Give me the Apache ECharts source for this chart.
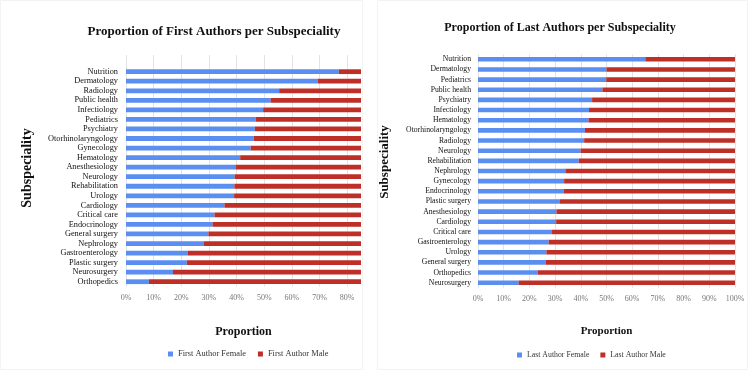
<!DOCTYPE html>
<html>
<head>
<meta charset="utf-8">
<script src="https://cdn.jsdelivr.net/npm/echarts@6/dist/echarts.min.js"></script>
<style>html,body{margin:0;padding:0;background:#fff;}#c{width:749px;height:371px;}</style>
</head>
<body>
<div id="c"></div>
<script>
// ---- Data ----
const firstCategories = ["Nutrition","Dermatology","Radiology","Public health","Infectiology","Pediatrics","Psychiatry","Otorhinolaryngology","Gynecology","Hematology","Anesthesiology","Neurology","Rehabilitation","Urology","Cardiology","Critical care","Endocrinology","General surgery","Nephrology","Gastroenterology","Plastic surgery","Neurosurgery","Orthopedics"];
const firstFemale = [77.0,69.3,55.4,52.3,49.6,46.9,46.6,46.2,45.1,41.3,39.8,39.3,39.2,39.1,35.6,32.0,31.3,29.8,28.2,22.4,22.0,17.0,8.3];
const firstMale = firstFemale.map(v => +(100 - v).toFixed(1));

const lastCategories = ["Nutrition","Dermatology","Pediatrics","Public health","Psychiatry","Infectiology","Hematology","Otorhinolaryngology","Radiology","Neurology","Rehabilitation","Nephrology","Gynecology","Endocrinology","Plastic surgery","Anesthesiology","Cardiology","Critical care","Gastroenterology","Urology","General surgery","Orthopedics","Neurosurgery"];
const lastFemale = [65.1,50.0,49.9,48.4,44.4,43.2,43.0,41.6,41.3,39.9,39.2,34.0,33.5,33.4,31.7,30.5,30.4,28.8,27.5,26.6,26.4,23.2,15.8];
const lastMale = lastFemale.map(v => +(100 - v).toFixed(1));

const firstTicks = [0,10,20,30,40,50,60,70,80];
const lastTicks = [0,10,20,30,40,50,60,70,80,90,100];

// ---- Styles ----
const BLUE = '#5a8ef0', RED = '#bd2f27';
const SERIF = 'Liberation Serif';
const fmt = ticks => v => ticks.indexOf(v) >= 0 ? v + '%' : '';

const chart = echarts.init(document.getElementById('c'));
chart.setOption({
  animation: false,
  backgroundColor: '#fff',
  title: [
    {text: 'Proportion of First Authors per Subspeciality', left: 209, top: 20, textAlign: 'center',
     textStyle: {fontFamily: SERIF, fontWeight: 'bold', fontSize: 13, color: '#111'}},
    {text: 'Proportion of Last Authors per Subspeciality', left: 555, top: 17, textAlign: 'center',
     textStyle: {fontFamily: SERIF, fontWeight: 'bold', fontSize: 12, color: '#111'}}
  ],
  legend: [
    {data: ['First Author Female','First Author Male'], left: 163, top: 345, icon: 'rect',
     itemWidth: 5, itemHeight: 5, itemGap: 12,
     textStyle: {fontFamily: SERIF, fontSize: 8.4, color: '#333'}},
    {data: ['Last Author Female','Last Author Male'], left: 512, top: 346, icon: 'rect',
     itemWidth: 5, itemHeight: 5, itemGap: 11,
     textStyle: {fontFamily: SERIF, fontSize: 7.8, color: '#333'}}
  ],
  grid: [
    {left: 126, top: 66.9, width: 235, height: 219.6},
    {left: 478, top: 54.2, width: 257, height: 233.6},
    {left: 126, top: 55, width: 235, height: 231.5},
    {left: 478, top: 54.2, width: 257, height: 233.6}
  ],
  xAxis: [
    {type: 'value', gridIndex: 0, min: 0, max: 85, interval: 10,
     axisLine: {show: false}, axisTick: {show: false}, splitLine: {show: false},
     axisLabel: {formatter: fmt(firstTicks), fontFamily: SERIF, fontSize: 8, color: '#777', margin: 7},
     name: 'Proportion', nameLocation: 'middle', nameGap: 39,
     nameTextStyle: {fontFamily: SERIF, fontWeight: 'bold', fontSize: 12, color: '#111'}},
    {type: 'value', gridIndex: 1, min: 0, max: 100, interval: 10,
     axisLine: {show: false}, axisTick: {show: false}, splitLine: {show: false},
     axisLabel: {formatter: fmt(lastTicks), fontFamily: SERIF, fontSize: 8, color: '#777', margin: 7},
     name: 'Proportion', nameLocation: 'middle', nameGap: 38,
     nameTextStyle: {fontFamily: SERIF, fontWeight: 'bold', fontSize: 11, color: '#111'}},
    {type: 'value', gridIndex: 2, min: 0, max: 85, interval: 10,
     axisLine: {show: false}, axisTick: {show: false}, axisLabel: {show: false},
     splitLine: {show: true, showMaxLine: false, lineStyle: {color: '#e3e3e3', width: 1}}},
    {type: 'value', gridIndex: 3, min: 0, max: 100, interval: 10,
     axisLine: {show: false}, axisTick: {show: false}, axisLabel: {show: false},
     splitLine: {show: true, lineStyle: {color: '#e3e3e3', width: 1}}}
  ],
  yAxis: [
    {type: 'category', gridIndex: 0, data: firstCategories, inverse: true,
     axisLine: {show: false}, axisTick: {show: false},
     axisLabel: {interval: 0, fontFamily: SERIF, fontSize: 8.3, color: '#111', margin: 8}},
    {type: 'category', gridIndex: 1, data: lastCategories, inverse: true,
     axisLine: {show: false}, axisTick: {show: false},
     axisLabel: {interval: 0, fontFamily: SERIF, fontSize: 7.7, color: '#111', margin: 7}},
    {type: 'value', gridIndex: 2, show: false},
    {type: 'value', gridIndex: 3, show: false}
  ],
  graphic: [
    {type: 'rect', shape: {x: 0.5, y: 0.5, width: 362, height: 369}, style: {fill: 'none', stroke: '#f3f3f3'}, silent: true},
    {type: 'rect', shape: {x: 377.5, y: 0.5, width: 370, height: 369}, style: {fill: 'none', stroke: '#f3f3f3'}, silent: true},
    {type: 'text', x: 27, y: 168, rotation: Math.PI / 2,
     style: {text: 'Subspeciality', font: 'bold 14px "Liberation Serif"', fill: '#111', align: 'center', verticalAlign: 'middle'}},
    {type: 'text', x: 385, y: 162, rotation: Math.PI / 2,
     style: {text: 'Subspeciality', font: 'bold 13px "Liberation Serif"', fill: '#111', align: 'center', verticalAlign: 'middle'}}
  ],
  series: [
    {name: 'First Author Female', type: 'bar', stack: 'a', xAxisIndex: 0, yAxisIndex: 0, data: firstFemale,
     barWidth: '50%', itemStyle: {color: BLUE}, z: 3},
    {name: 'First Author Male', type: 'bar', stack: 'a', xAxisIndex: 0, yAxisIndex: 0, data: firstMale,
     barWidth: '50%', itemStyle: {color: RED}, z: 3},
    {name: 'Last Author Female', type: 'bar', stack: 'b', xAxisIndex: 1, yAxisIndex: 1, data: lastFemale,
     barWidth: '45%', itemStyle: {color: BLUE}, z: 3},
    {name: 'Last Author Male', type: 'bar', stack: 'b', xAxisIndex: 1, yAxisIndex: 1, data: lastMale,
     barWidth: '45%', itemStyle: {color: RED}, z: 3}
  ]
});
</script>
</body>
</html>
